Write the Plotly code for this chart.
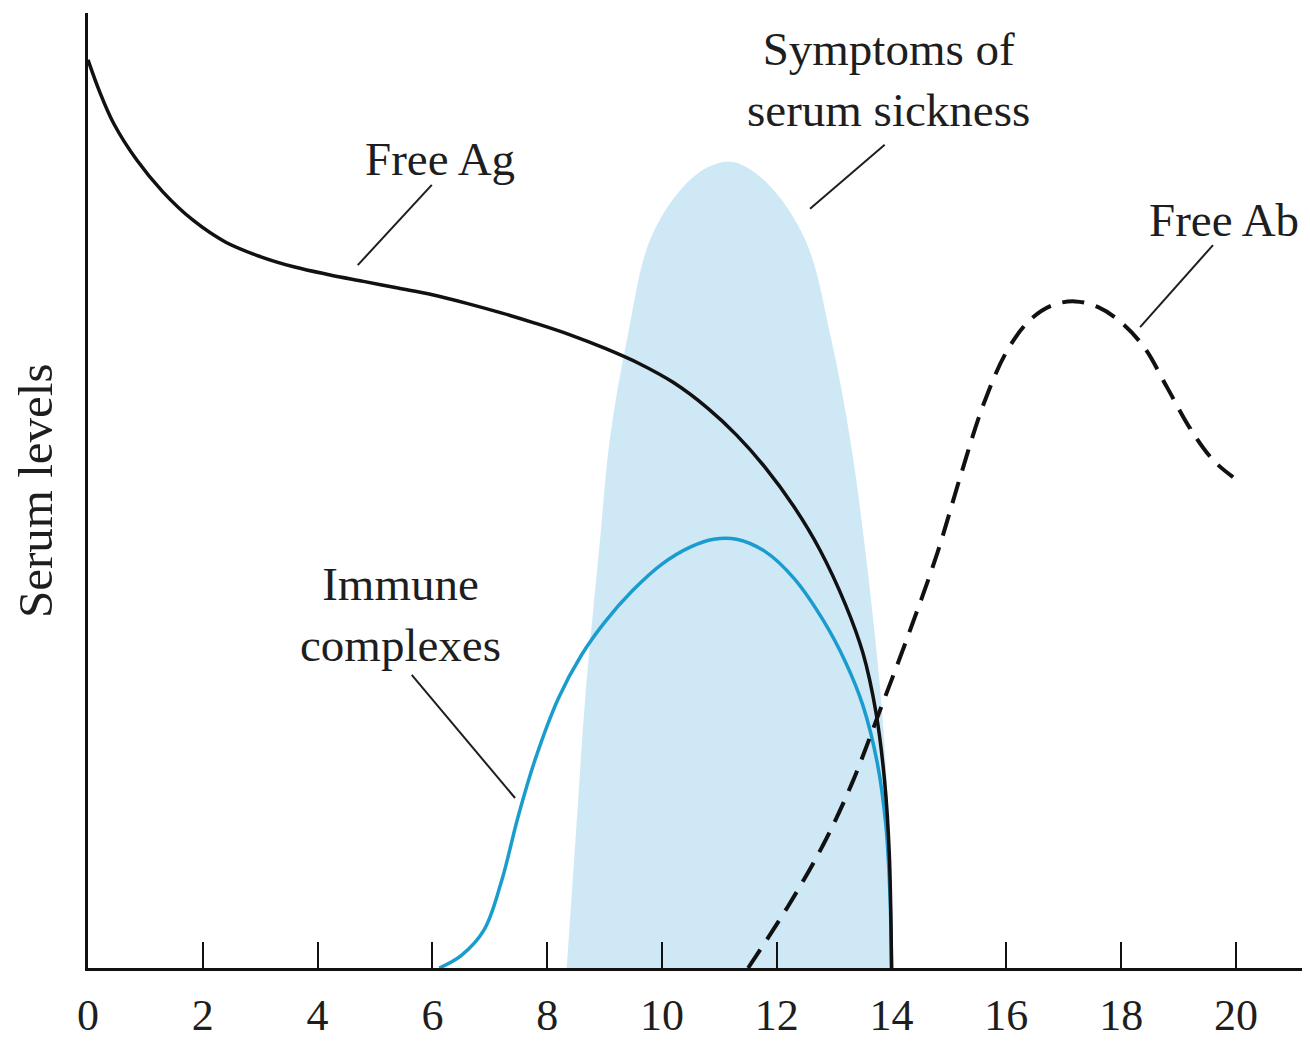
import plotly.graph_objects as go

# ---- data (days vs. relative serum level) ----
free_ag_x = [0, 0.2, 0.45, 0.85, 1.3, 1.83, 2.4, 3.0, 3.6, 4.2, 4.8, 5.4, 6.0, 6.6, 7.2, 7.8,
             8.4, 9.0, 9.6, 10.2, 10.8, 11.3, 11.8, 12.3, 12.75, 13.2, 13.5, 13.73, 13.88, 13.96, 14.0]
free_ag_y = [95.1, 91.8, 88.4, 84.6, 81.3, 78.3, 76.0, 74.5, 73.4, 72.6, 71.9, 71.2, 70.5, 69.6, 68.6, 67.5,
             66.3, 64.9, 63.3, 61.3, 58.6, 55.8, 52.4, 48.3, 43.8, 38.0, 33.0, 26.7, 19.5, 12.0, 0]

immune_x = [6.12, 6.5, 6.9, 7.2, 7.5, 7.8, 8.2, 8.6, 9.0, 9.5, 10.0, 10.5, 10.9, 11.3, 11.8,
            12.3, 12.8, 13.2, 13.5, 13.75, 13.9, 13.97, 14.0]
immune_y = [0, 1.3, 4.0, 9.0, 16.0, 22.0, 28.3, 32.8, 36.2, 39.6, 42.3, 44.1, 44.9, 44.9, 43.6,
            40.8, 36.5, 32.0, 27.5, 21.5, 15.0, 8.0, 0]

free_ab_x = [11.5, 12.2, 12.8, 13.3, 13.8, 14.3, 14.8, 15.2, 15.6, 16.0, 16.4, 16.8, 17.2, 17.6,
             18.0, 18.4, 18.8, 19.2, 19.6, 19.95]
free_ab_y = [0, 6.5, 12.8, 19.2, 27.0, 35.0, 43.5, 51.5, 59.0, 64.5, 67.8, 69.4, 69.8, 69.2,
             67.6, 65.0, 60.8, 56.5, 53.2, 51.4]

symptoms_x = [8.34, 8.5, 8.66, 8.92, 9.09, 9.39, 9.79, 10.37, 10.85, 11.25, 11.83, 12.5, 12.95,
              13.28, 13.52, 13.82, 13.96, 14.03]
symptoms_y = [0, 14.0, 28.0, 44.8, 55.3, 65.8, 76.2, 81.8, 84.0, 84.4, 82.2, 76.2, 65.8,
              55.3, 44.8, 28.0, 14.0, 0]

tick_vals = [0, 2, 4, 6, 8, 10, 12, 14, 16, 18, 20]
tick_text = ["0", "2", "4", "6", "8", "10", "12", "14", "16", "18", "20"]

# labels: (text, x, y) and leader lines (x0, y0, x1, y1)
labels = [
    ("Free Ag", 6.13, 84.7),
    ("Symptoms of<br>serum sickness", 13.95, 93.0),
    ("Immune<br>complexes", 5.44, 37.0),
    ("Free Ab", 19.79, 78.3),
]
leaders = [
    (5.99, 82.0, 4.70, 73.6),
    (13.88, 86.2, 12.58, 79.5),
    (5.64, 30.7, 7.44, 17.8),
    (18.33, 67.1, 19.6, 75.7),
]

FONT = "Liberation Serif"
TXT = "#1e1e1e"

fig = go.Figure()

fig.add_trace(go.Scatter(
    x=symptoms_x, y=symptoms_y,
    mode="lines", fill="tozeroy", fillcolor="#cfe8f6",
    line=dict(width=0, shape="spline", smoothing=1.0, color="#cfe8f6"),
    hoverinfo="skip", showlegend=False))

fig.add_trace(go.Scatter(
    x=immune_x, y=immune_y, mode="lines",
    line=dict(color="#1b9ccf", width=3.5, shape="spline", smoothing=1.0),
    showlegend=False))

fig.add_trace(go.Scatter(
    x=free_ag_x, y=free_ag_y, mode="lines",
    line=dict(color="#111111", width=3.5, shape="spline", smoothing=1.0),
    showlegend=False))

fig.add_trace(go.Scatter(
    x=free_ab_x, y=free_ab_y, mode="lines",
    line=dict(color="#111111", width=4, shape="spline", smoothing=1.0, dash="22px,12px"),
    showlegend=False))

for (x0, y0, x1, y1) in leaders:
    fig.add_shape(type="line", x0=x0, y0=y0, x1=x1, y1=y1, xref="x", yref="y",
                  line=dict(color="#1e1e1e", width=2))

for (t, x, y) in labels:
    fig.add_annotation(x=x, y=y, xref="x", yref="y", text=t, showarrow=False,
                       font=dict(family=FONT, size=47, color=TXT),
                       xanchor="center", yanchor="middle", align="center")

fig.add_annotation(x=-0.043, y=0.50, xref="paper", yref="paper", text="Serum levels",
                   showarrow=False, textangle=-90,
                   font=dict(family=FONT, size=49, color=TXT),
                   xanchor="center", yanchor="middle")

fig.update_layout(
    width=1302, height=1049,
    margin=dict(l=80, r=0, t=5, b=89),
    paper_bgcolor="white", plot_bgcolor="white",
    xaxis=dict(range=[0, 21.29], showgrid=False, zeroline=False,
               showline=True, linecolor="#111111", linewidth=2.5,
               ticks="inside", ticklen=26, tickwidth=2, tickcolor="#111111",
               tickvals=tick_vals, ticktext=tick_text, ticklabelstandoff=6,
               tickfont=dict(family=FONT, size=44, color=TXT)),
    yaxis=dict(range=[0, 100], showgrid=False, zeroline=False,
               showline=True, linecolor="#111111", linewidth=2.5,
               showticklabels=False, ticks=""),
)

fig.write_html("out.html")
